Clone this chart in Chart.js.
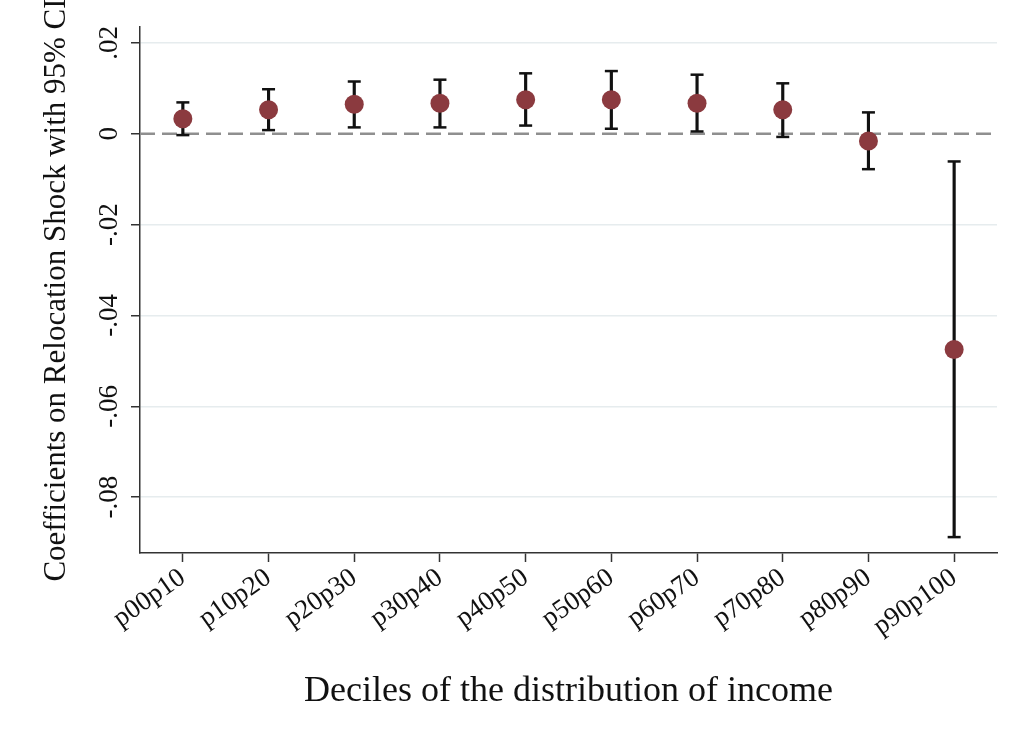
<!DOCTYPE html>
<html>
<head>
<meta charset="utf-8">
<script src="https://cdn.jsdelivr.net/npm/chart.js@4.4.1/dist/chart.umd.min.js"></script>
<style>
  body { margin: 0; background: #fff; }
  #wrap { width: 1024px; height: 744px; }
</style>
</head>
<body>
<div id="wrap"><canvas id="myChart" width="1024" height="744"></canvas></div>
<script>
// deciles on the x axis
var deciles = ['p00p10', 'p10p20', 'p20p30', 'p30p40', 'p40p50',
               'p50p60', 'p60p70', 'p70p80', 'p80p90', 'p90p100'];

// point estimates and 95% CI bounds
var coef   = [0.0033, 0.0053, 0.0065, 0.0067, 0.0075, 0.0075, 0.0067, 0.0053, -0.0016, -0.0475];
var ciLow  = [-0.0003, 0.0008, 0.0014, 0.0014, 0.0018, 0.0011, 0.0005, -0.0007, -0.0078, -0.0888];
var ciHigh = [0.0069, 0.0098, 0.0115, 0.0119, 0.0133, 0.0138, 0.0130, 0.0111, 0.0047, -0.0061];

// y ticks
var yTicks = [-0.08, -0.06, -0.04, -0.02, 0, 0.02];
var yTickLabels = ['-.08', '-.06', '-.04', '-.02', '0', '.02'];
var refLine = 0;

var serif = 'Liberation Serif';
var ink = '#111';
var axisColor = '#333';

var whiskers = [];
for (var i = 0; i < deciles.length; i++) {
    whiskers.push([ciLow[i], ciHigh[i]]);
}

// dashed line at zero, under the markers
var zeroLine = {
    id: 'zeroLine',
    beforeDatasetsDraw: function (chart) {
        var ctx = chart.ctx;
        var area = chart.chartArea;
        var y = chart.scales.y.getPixelForValue(refLine);
        ctx.save();
        ctx.strokeStyle = '#8f8f8f';
        ctx.lineWidth = 2.5;
        ctx.setLineDash([15, 7]);
        ctx.beginPath();
        ctx.moveTo(area.left, y);
        ctx.lineTo(area.right, y);
        ctx.stroke();
        ctx.restore();
    }
};

var ctx = document.getElementById('myChart').getContext('2d');
var myChart = new Chart(ctx, {
    data: {
        labels: deciles,
        datasets: [
            {
                type: 'line',
                data: coef,
                showLine: false,
                pointRadius: 9.5,
                pointHoverRadius: 9.5,
                pointBackgroundColor: '#8b3a3f',
                pointBorderColor: '#8b3a3f',
                pointBorderWidth: 0,
                order: 0
            },
            {
                type: 'line',
                data: ciHigh,
                showLine: false,
                pointStyle: 'line',
                pointRadius: 6.5,
                pointHoverRadius: 6.5,
                pointBorderColor: ink,
                pointBorderWidth: 2.5,
                order: 1
            },
            {
                type: 'line',
                data: ciLow,
                showLine: false,
                pointStyle: 'line',
                pointRadius: 6.5,
                pointHoverRadius: 6.5,
                pointBorderColor: ink,
                pointBorderWidth: 2.5,
                order: 1
            },
            {
                type: 'bar',
                data: whiskers,
                backgroundColor: ink,
                borderWidth: 0,
                barThickness: 2.5,
                order: 2
            }
        ]
    },
    options: {
        responsive: false,
        animation: false,
        devicePixelRatio: 1,
        layout: { padding: { top: 27, right: 27, left: 0, bottom: 0 } },
        plugins: {
            legend: { display: false },
            tooltip: { enabled: false }
        },
        scales: {
            x: {
                type: 'category',
                offset: true,
                grid: {
                    offset: false,
                    drawOnChartArea: false,
                    drawTicks: true,
                    tickLength: 9,
                    tickColor: axisColor,
                    tickWidth: 1.5
                },
                border: { color: axisColor, width: 1.5 },
                ticks: {
                    font: { family: serif, size: 27 },
                    color: ink,
                    minRotation: 35,
                    maxRotation: 35,
                    padding: 0,
                    autoSkip: false
                },
                title: {
                    display: true,
                    text: 'Deciles of the distribution of income',
                    font: { family: serif, size: 36 },
                    color: ink,
                    padding: { top: 0, bottom: 31 }
                },
                afterFit: function (scale) { scale.height = 191; }
            },
            y: {
                type: 'linear',
                min: -0.0923,
                max: 0.0235,
                afterBuildTicks: function (scale) {
                    scale.ticks = yTicks.map(function (v) { return { value: v }; });
                },
                grid: {
                    color: function (c) {
                        return c.tick && c.tick.value === 0 ? 'rgba(0,0,0,0)' : '#e6ecee';
                    },
                    lineWidth: 1.5,
                    tickLength: 9,
                    tickColor: axisColor,
                    tickWidth: 1.5
                },
                border: { color: axisColor, width: 1.5 },
                ticks: {
                    font: { family: serif, size: 27 },
                    color: ink,
                    minRotation: 90,
                    maxRotation: 90,
                    crossAlign: 'center',
                    padding: 0,
                    callback: function (v, idx) { return yTickLabels[idx]; }
                },
                title: {
                    display: true,
                    text: 'Coefficients on Relocation Shock with 95% CI',
                    font: { family: serif, size: 31 },
                    color: ink,
                    padding: { top: 38, bottom: 0 }
                },
                afterFit: function (scale) { scale.width = 140; }
            }
        }
    },
    plugins: [zeroLine]
});
</script>
</body>
</html>
